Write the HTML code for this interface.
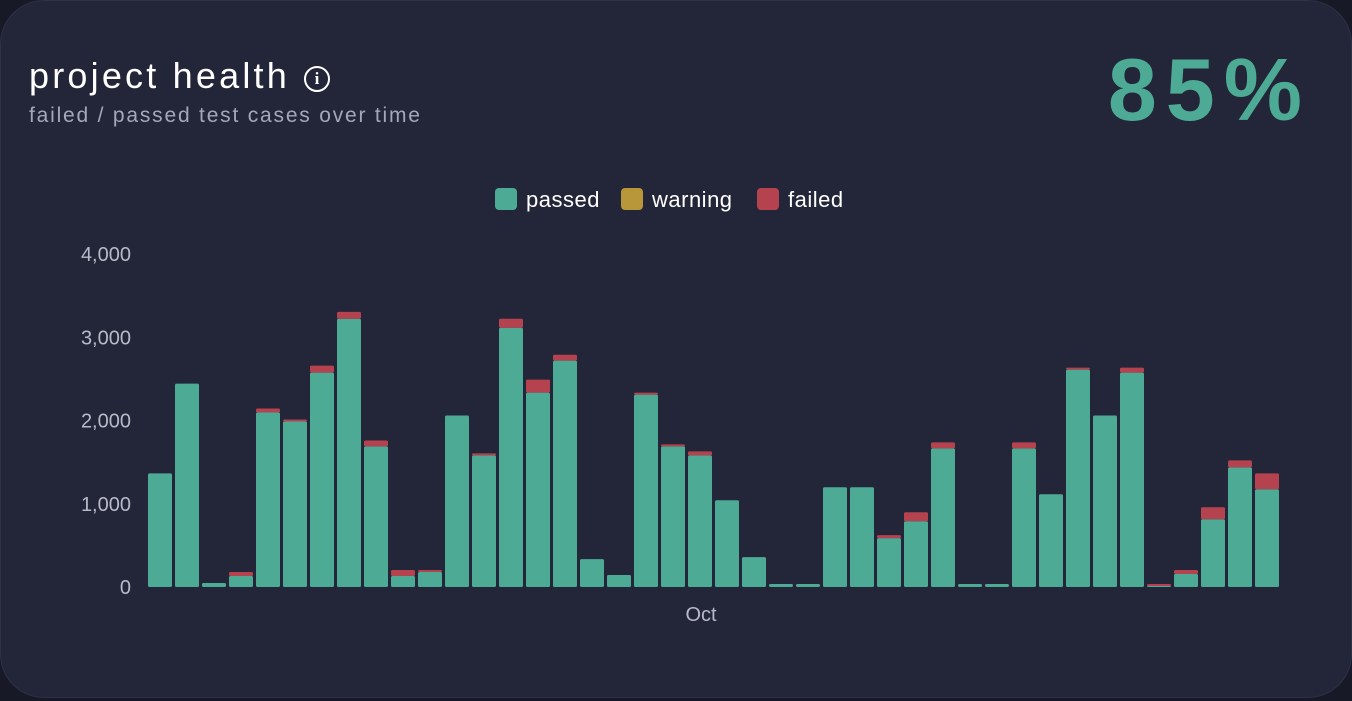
<!DOCTYPE html>
<html><head><meta charset="utf-8"><style>
html,body{margin:0;padding:0;background:#171927;width:1352px;height:700px;overflow:hidden;font-family:"Liberation Sans",sans-serif}
.card{position:absolute;left:0;top:0;width:1350px;height:696px;background:#232639;border-radius:44px;border:1px solid #2e3148}
.title{position:absolute;left:28px;top:54px;font-size:36px;color:#fff;letter-spacing:3.2px}
.sub{position:absolute;left:28px;top:103px;font-size:21px;color:#a4a7b8;letter-spacing:1.8px}
.big{position:absolute;right:40px;top:38px;font-size:88px;font-weight:bold;color:#4dab95;letter-spacing:9px}
.info{display:inline-block;width:22px;height:22px;border:2.5px solid #fff;border-radius:50%;font-size:17px;text-align:center;line-height:22px;font-weight:bold;vertical-align:4px;margin-left:14px;letter-spacing:0;font-family:"Liberation Serif",serif}
</style></head><body>
<div class="card">
<div class="title">project health<span class="info">i</span></div>
<div class="sub">failed / passed test cases over time</div>
<div class="big">85%</div>
<svg id="chart" width="1352" height="700" style="position:absolute;left:0;top:0"></svg>
</div>
<script>
const passed=[1365,2443,48,132,2096,1988,2575,3222,1689,132,180,2060,1581,3114,2335,2719,335,144,2311,1689,1581,1042,359,36,36,1198,1198,587,790,1665,36,36,1665,1114,2611,2060,2575,12,156,814,1437,1174];
const warning=[0,0,0,0,0,0,0,0,0,0,0,0,0,0,0,0,0,0,0,0,0,0,0,0,0,0,0,0,0,0,0,0,0,0,0,0,0,0,0,0,0,0];
const failed=[0,0,0,48,48,24,84,83,71,72,24,0,24,108,156,71,0,0,24,24,48,0,0,0,0,0,0,36,108,72,0,0,72,0,24,0,60,24,48,144,84,191];
const yTicks=[0,1000,2000,3000,4000];
const yTickLabels=["0","1,000","2,000","3,000","4,000"];
const xLabel="Oct";
const legendNames=["passed","warning","failed"];
const colors=["#4dab95","#b8963a","#b5434f"];
const NS="http://www.w3.org/2000/svg";
const svg=document.getElementById('chart');
const y0=586,yScale=(4000)/(586-253);
const Y=v=>y0-v/yScale;
const X=i=>147+i*27;
function mk(t,a){const e=document.createElementNS(NS,t);for(const k in a)e.setAttribute(k,a[k]);svg.appendChild(e);return e;}
yTicks.forEach((t,i)=>{const e=mk('text',{x:130,y:Y(t)+7,'text-anchor':'end','font-size':20,fill:'#b8bac8','font-family':'Liberation Sans, sans-serif'});e.textContent=yTickLabels[i];

});
const series=[passed,warning,failed];
passed.forEach((p,i)=>{let base=0;series.forEach((s,k)=>{const v=s[i];if(v<=0)return;const r=mk('rect',{x:X(i),y:Y(base+v),width:24,height:Y(base)-Y(base+v),fill:colors[k],rx:1.5});

base+=v;});});
const xl=mk('text',{x:700,y:620,'text-anchor':'middle','font-size':20,fill:'#b8bac8','font-family':'Liberation Sans, sans-serif'});xl.textContent=xLabel;


const lx=[494,620,756];
legendNames.forEach((n,k)=>{const r=mk('rect',{x:lx[k],y:187,width:22,height:22,rx:4,fill:colors[k]});


const t=mk('text',{x:lx[k]+31,y:206,'font-size':22,fill:'#fff','font-family':'Liberation Sans, sans-serif','letter-spacing':'0.5'});t.textContent=n;

});
</script>
</body></html>
